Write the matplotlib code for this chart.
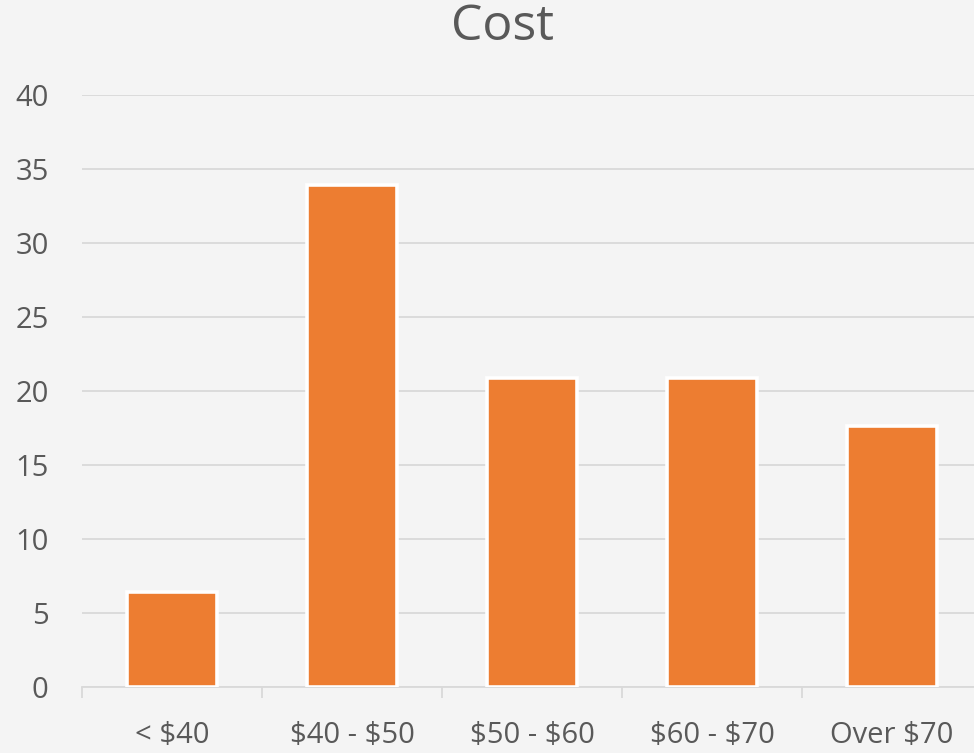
import matplotlib
matplotlib.use("Agg")
import matplotlib.pyplot as plt
from matplotlib.ticker import FixedLocator, MultipleLocator

categories = ["< $40", "$40 - $50", "$50 - $60", "$60 - $70", "Over $70"]
values = [6.4, 33.9, 20.9, 20.9, 17.6]
title = "Cost"

plt.rcParams['font.family'] = ['Open Sans', 'DejaVu Sans']
plt.rcParams['text.parse_math'] = False
text_color = "#595959"
grid_color = "#D9D9D9"
bg = "#F4F4F4"
bar_color = "#ED7D31"

W, H = 974, 753
fig = plt.figure(figsize=(W / 100, H / 100), dpi=100, facecolor=bg)
left, right = 82, 982
top, bottom = 95.3, 686.5
ax = fig.add_axes([left / W, (H - bottom) / H, (right - left) / W, (bottom - top) / H])
ax.set_facecolor(bg)

x = list(range(len(categories)))
ax.bar(x, values, width=0.495, color=bar_color, edgecolor="white", linewidth=2.6, zorder=3)

ax.set_xlim(-0.5, len(categories) - 0.5)
ax.set_ylim(0, 40)
ax.yaxis.set_major_locator(MultipleLocator(5))
ax.grid(axis="y", color=grid_color, linewidth=1.3, zorder=0)

for s in ["top", "right", "left"]:
    ax.spines[s].set_visible(False)
ax.spines["bottom"].set_color(grid_color)
ax.spines["bottom"].set_linewidth(1.3)
ax.spines["bottom"].set_zorder(1)

ax.set_xticks(x)
ax.set_xticklabels(categories)
ax.xaxis.set_minor_locator(FixedLocator([i - 0.5 for i in range(len(categories) + 1)]))
ax.tick_params(axis="x", which="major", length=0, pad=25, labelsize=21, labelcolor=text_color)
ax.tick_params(axis="x", which="minor", length=8, width=1.3, color=grid_color, direction="out")
ax.tick_params(axis="y", length=0, pad=24, labelsize=21, labelcolor=text_color)

fig.text(503 / W, 1 - 27 / H, title, ha="center", va="center", fontsize=36, color=text_color)

fig.savefig("out.png", dpi=100, facecolor=bg)
